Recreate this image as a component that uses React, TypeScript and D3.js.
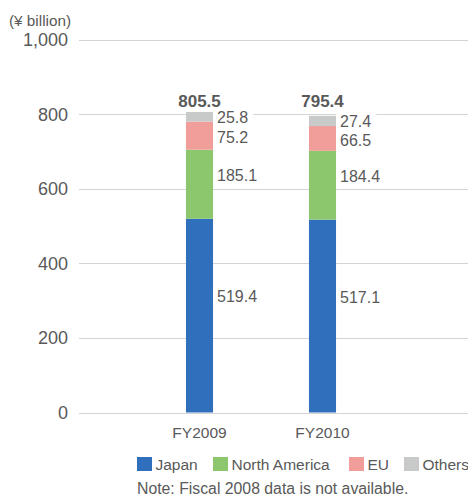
import React, { useEffect, useRef } from "react";
import * as d3 from "d3";

const categories = ["FY2009", "FY2010"];
const seriesNames = ["Japan", "North America", "EU", "Others"];
const japan = [519.4, 517.1];
const northAmerica = [185.1, 184.4];
const eu = [75.2, 66.5];
const others = [25.8, 27.4];
const totals = [805.5, 795.4];
const yTicks = [0, 200, 400, 600, 800, 1000];
const unitLabel = "(¥ billion)";
const note = "Note: Fiscal 2008 data is not available.";

const colors = ["#2f6fbb", "#8cc66d", "#f19e9b", "#c8c9c9"];
const labelDy = [-19, -9, 2, 0];
const legendX = [137, 213, 349, 404];
const FONT = "'Liberation Sans', Arial, Helvetica, sans-serif";
const TEXT = "#595959";

export default function App() {
  const ref = useRef<SVGSVGElement | null>(null);
  useEffect(() => {
    const svg = d3.select(ref.current);
    svg.selectAll("*").remove();
    const W = 468;
    const y = d3.scaleLinear().domain([0, 1000]).range([412.5, 39.5]);
    const x = d3.scaleBand().domain(categories).range([138, 384]).paddingInner(0.78).paddingOuter(0.39);
    const series = [japan, northAmerica, eu, others];

    const g = svg.append("g").attr("font-family", FONT);

    g.selectAll("line.grid").data(yTicks).join("line")
      .attr("x1", 79).attr("x2", W)
      .attr("y1", d => Math.round(y(d)) + 0.5).attr("y2", d => Math.round(y(d)) + 0.5)
      .attr("stroke", "#d4d4d4").attr("stroke-width", 1);

    g.selectAll("text.tick").data(yTicks).join("text")
      .attr("x", 68).attr("y", d => y(d))
      .attr("dy", "0.36em").attr("text-anchor", "end")
      .attr("font-size", 18).attr("fill", TEXT)
      .text(d => d3.format(",")(d));

    g.append("text").attr("x", 9).attr("y", 26).attr("font-size", 15.3).attr("fill", TEXT).text(unitLabel);

    const bw = x.bandwidth();
    categories.forEach((c, ci) => {
      let base = 0;
      const bx = x(c)!;
      series.forEach((s, si) => {
        const v = s[ci];
        g.append("rect")
          .attr("x", bx).attr("width", bw)
          .attr("y", y(base + v)).attr("height", y(base) - y(base + v))
          .attr("fill", colors[si]);
        const mid = y(base + v / 2) + labelDy[si];
        const lg = g.append("g");
        const bg = lg.append("rect").attr("fill", "#fff");
        const t = lg.append("text")
          .attr("x", bx + bw + 4).attr("y", mid).attr("dy", "0.36em")
          .attr("font-size", 16).attr("fill", TEXT)
          .text(d3.format(".1f")(v));
        const bb = (t.node() as SVGTextElement).getBBox();
        bg.attr("x", bx + bw).attr("y", bb.y).attr("width", bb.x + bb.width + 5 - (bx + bw)).attr("height", bb.height);
        base += v;
      });
      g.append("text")
        .attr("x", bx + bw / 2).attr("y", y(d3.max(totals)!) - 5)
        .attr("text-anchor", "middle").attr("font-size", 17).attr("font-weight", "bold")
        .attr("fill", TEXT).text(d3.format(".1f")(totals[ci]));
      g.append("text")
        .attr("x", bx + bw / 2).attr("y", 438)
        .attr("text-anchor", "middle").attr("font-size", 15.5).attr("fill", TEXT)
        .text(c);
    });

    seriesNames.forEach((n, i) => {
      g.append("rect").attr("x", legendX[i]).attr("y", 457).attr("width", 15).attr("height", 14).attr("fill", colors[i]);
      g.append("text").attr("x", legendX[i] + 18.5).attr("y", 464).attr("dy", "0.36em")
        .attr("font-size", 15.5).attr("fill", TEXT).text(n);
    });

    g.append("text").attr("x", 137).attr("y", 494).attr("font-size", 15.8).attr("fill", TEXT).text(note);
  }, []);
  return (
    <svg ref={ref} width={468} height={496} style={{ position: "absolute", left: 0, top: 0, background: "#fff" }} />
  );
}
